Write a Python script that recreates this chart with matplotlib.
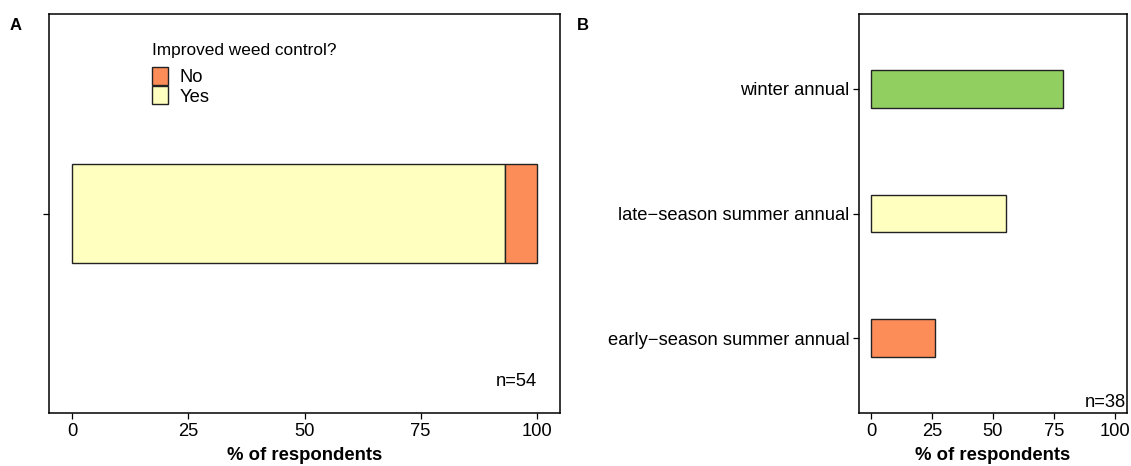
import matplotlib.pyplot as plt
from matplotlib.patches import Patch

plt.rcParams['font.family'] = ['Liberation Sans', 'DejaVu Sans']

# ---- Data ----
# Panel A: improved weed control (n=54)
answers = ["Yes", "No"]
answer_pct = [93.1, 6.9]
answer_colors = ["#FFFFBF", "#FC8D59"]

# Panel B: weed type (n=38)
weed_types = ["early\u2212season summer annual", "late\u2212season summer annual", "winter annual"]
weed_pct = [26.3, 55.3, 78.9]
weed_colors = ["#FC8D59", "#FFFFBF", "#91CF60"]

xticks = [0, 25, 50, 75, 100]
BAR_H = 0.3
FS = 13.2

fig = plt.figure(figsize=(11.31, 4.66), dpi=100)
axA = fig.add_axes([49/1131, 1-413/466, 511/1131, 399/466])
axB = fig.add_axes([859/1131, 1-413/466, 268/1131, 399/466])

def style(ax):
    for s in ax.spines.values():
        s.set_linewidth(1.1)
    ax.tick_params(axis='both', length=4, width=0.9, labelsize=FS, pad=3)
    ax.set_xticks(xticks)
    ax.set_xlim(-5, 105)
    ax.set_xlabel("% of respondents", fontsize=13.3, fontweight='bold', labelpad=5)

# ---- Panel A: stacked bar ----
left = 0
for lab, v, c in zip(answers, answer_pct, answer_colors):
    axA.barh(1, v, left=left, height=BAR_H, color=c, edgecolor='#222222', linewidth=1.0)
    left += v
axA.set_ylim(0.4, 1.6)
axA.set_yticks([1])
axA.set_yticklabels([""])
style(axA)
axA.text(100, 0.496, "n=54", ha='right', va='center', fontsize=FS)

handles = [Patch(facecolor=answer_colors[1], edgecolor='#222222', linewidth=1.0, label="No"),
           Patch(facecolor=answer_colors[0], edgecolor='#222222', linewidth=1.0, label="Yes")]
leg = axA.legend(handles=handles, title="Improved weed control?", loc='upper left',
                 bbox_to_anchor=(0.202, 0.928), frameon=False, fontsize=FS, title_fontsize=12.4,
                 handlelength=0.85, handleheight=1.1, handletextpad=0.65, labelspacing=0.0,
                 borderpad=0, borderaxespad=0)
leg._legend_box.align = "left"
leg._legend_box.sep = 7

# ---- Panel B: bars per weed type ----
ypos = list(range(1, len(weed_types) + 1))
axB.barh(ypos, weed_pct, height=BAR_H, color=weed_colors, edgecolor='#222222', linewidth=1.0)
axB.set_ylim(0.4, len(weed_types) + 0.6)
axB.set_yticks(ypos)
axB.set_yticklabels(weed_types)
style(axB)
axB.text(104.5, 0.485, "n=38", ha='right', va='center', fontsize=FS)

fig.text(10/1131, 1-25/466, "A", fontsize=12, fontweight='bold', va='center')
fig.text(577/1131, 1-25/466, "B", fontsize=12, fontweight='bold', va='center')

fig.savefig("out.png", dpi=100)
